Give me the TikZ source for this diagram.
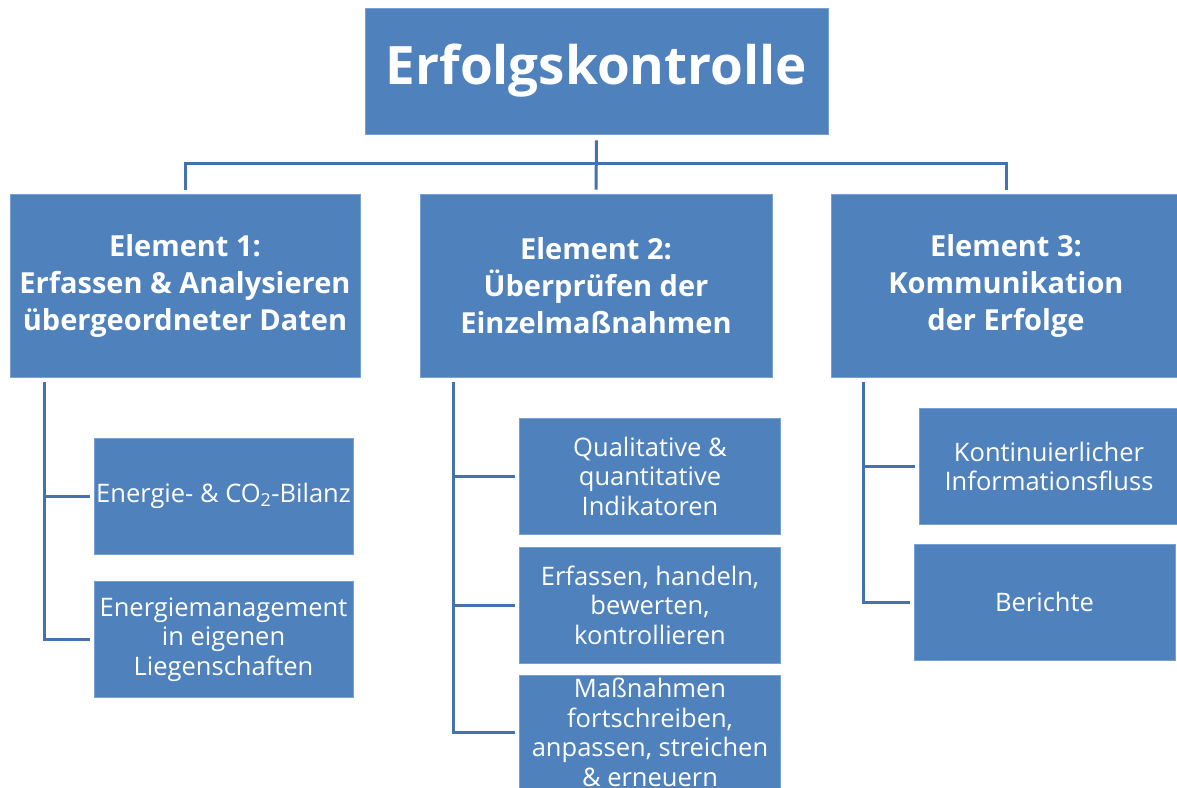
\documentclass[tikz,border=0pt]{standalone}
\usepackage{fontspec}
\setmainfont{Open Sans}
\definecolor{boxblue}{RGB}{79,129,189}
\definecolor{boxedge}{RGB}{120,160,210}
\definecolor{linecol}{RGB}{68,114,176}
\begin{document}
\begin{tikzpicture}[x=1pt,y=-1pt,
  box/.style={fill=boxblue, draw=boxedge, line width=0.8pt, text=white, align=center, inner sep=0pt},
  topbox/.style={box, font=\bfseries\fontsize{53}{58}\selectfont},
  elbox/.style={box, font=\bfseries\fontsize{29}{37}\selectfont},
  subbox/.style={box, font=\fontsize{25.5}{29.5}\selectfont},
  conn/.style={draw=linecol, line width=3pt}]
\useasboundingbox (0,0) rectangle (1177,787);
\begin{scope}
\clip (0,0) rectangle (1177,787);
\node[topbox, minimum width=463pt, minimum height=126pt] (top) at (596.5,71) {Erfolgskontrolle};
\node[elbox, minimum width=350pt, minimum height=183pt] (e1) at (185,285.5) {Element 1:\\Erfassen \& Analysieren\\übergeordneter Daten};
\node[elbox, minimum width=352pt, minimum height=183pt] (e2) at (596,285.5) {Element 2:\\Überprüfen der\\Einzelmaßnahmen};
\node[elbox, minimum width=350pt, minimum height=183pt] (e3) at (1006,285.5) {Element 3:\\Kommunikation\\der Erfolge};
\node[subbox, minimum width=259pt, minimum height=116pt] (c11) at (223.5,496) {Energie- \& CO\textsubscript{2}-Bilanz};
\node[subbox, minimum width=259pt, minimum height=116pt] (c12) at (223.5,639.5) {Energiemanagement\\in eigenen\\Liegenschaften};
\node[subbox, minimum width=261pt, minimum height=116pt] (c21) at (650,476) {Qualitative \&\\quantitative\\Indikatoren};
\node[subbox, minimum width=261pt, minimum height=116pt] (c22) at (650,605) {Erfassen, handeln,\\bewerten,\\kontrollieren};
\node[subbox, minimum width=261pt, minimum height=115pt] (c23) at (650,732.5) {Maßnahmen\\fortschreiben,\\anpassen, streichen\\\& erneuern};
\node[subbox, minimum width=260pt, minimum height=116pt] (c31) at (1049,466.5) {Kontinuierlicher\\Informationsfluss};
\node[subbox, minimum width=261pt, minimum height=116pt] (c32) at (1044.5,602) {Berichte};
\end{scope}
\coordinate (bus) at (596,163);
\coordinate (t1) at (44,382);
\coordinate (t2) at (453,382);
\coordinate (t3) at (863,382);
\draw[conn] ([yshift=-6pt]top.south) -- ([yshift=4pt]e2.north);
\draw[conn] ([yshift=4pt]e1.north) |- (bus) -| ([yshift=4pt]e3.north);
\draw[conn] (t1) |- ([xshift=-4pt]c12.west);
\draw[conn] (t1 |- c11.west) -- ([xshift=-4pt]c11.west);
\draw[conn] (t2) |- ([xshift=-4pt]c23.west);
\draw[conn] (t2 |- c21.west) -- ([xshift=-4pt]c21.west);
\draw[conn] (t2 |- c22.west) -- ([xshift=-4pt]c22.west);
\draw[conn] (t3) |- ([xshift=-4pt]c32.west);
\draw[conn] (t3 |- c31.west) -- ([xshift=-4pt]c31.west);
\end{tikzpicture}
\end{document}
